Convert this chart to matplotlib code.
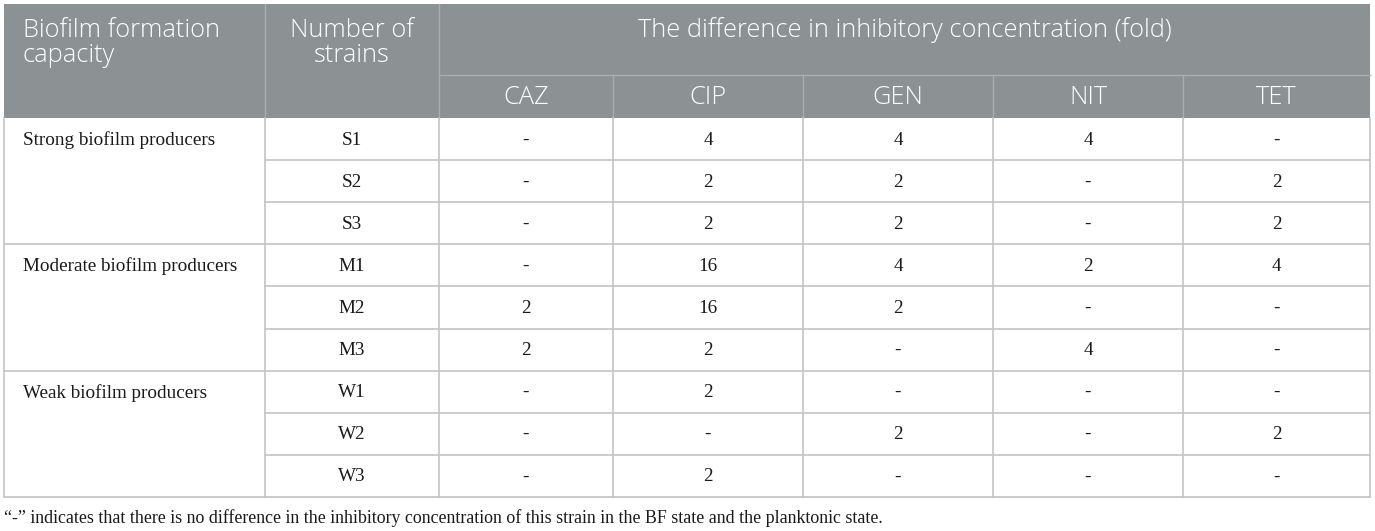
import matplotlib

matplotlib.use("Agg")
import matplotlib.pyplot as plt
from matplotlib.patches import Rectangle

# data
groups = ["Strong biofilm producers", "Moderate biofilm producers", "Weak biofilm producers"]
strains = ["S1", "S2", "S3", "M1", "M2", "M3", "W1", "W2", "W3"]
drugs = ["CAZ", "CIP", "GEN", "NIT", "TET"]
caz = ["-", "-", "-", "-", "2", "2", "-", "-", "-"]
cip = ["4", "2", "2", "16", "16", "2", "2", "-", "2"]
gen = ["4", "2", "2", "4", "2", "-", "-", "2", "-"]
nit = ["4", "-", "-", "2", "-", "4", "-", "-", "-"]
tet = ["-", "2", "2", "4", "-", "-", "-", "2", "-"]
footnote = ("\u201c-\u201d indicates that there is no difference in the inhibitory "
            "concentration of this strain in the BF state and the planktonic state.")

W, H = 1375, 531
fig = plt.figure(figsize=(W / 100, H / 100), dpi=100)
ax = fig.add_axes([0, 0, 1, 1])
ax.set_xlim(0, W)
ax.set_ylim(H, 0)
ax.axis("off")

# layout (pixels)
xs = [4, 265, 439, 613, 803, 993, 1183, 1370]
top, sub, head_bot = 4, 75, 118
row_h = 42.1
rows_y = [head_bot + i * row_h for i in range(len(strains) + 1)]
bottom = rows_y[-1]

head_col = "#8c9194"
head_line = "#a9adb0"
body_line = "#c4c4c4"
sans = "Open Sans"
serif = "Liberation Serif"
hsize = 18.3
bsize = 13.8

# header band
ax.add_patch(Rectangle((xs[0], top), xs[-1] - xs[0], head_bot - top, color=head_col, lw=0))
ax.plot([xs[2], xs[-1]], [sub, sub], color=head_line, lw=1)
for x in xs[1:3]:
    ax.plot([x, x], [top, head_bot], color=head_line, lw=1)
for x in xs[3:-1]:
    ax.plot([x, x], [sub, head_bot], color=head_line, lw=1)

hkw = dict(color="white", family=sans, size=hsize, weight="light", va="center")
ax.text(23, 43, "Biofilm formation\ncapacity", ha="left", linespacing=1.0, **hkw)
ax.text((xs[1] + xs[2]) / 2, 43, "Number of\nstrains", ha="center", linespacing=1.0, **hkw)
ax.text((xs[2] + xs[-1]) / 2, 30, "The difference in inhibitory concentration (fold)",
        ha="center", **hkw)
for j, d in enumerate(drugs):
    ax.text((xs[j + 2] + xs[j + 3]) / 2, (sub + head_bot) / 2 + 1, d, ha="center", **hkw)

# body lines
for i in range(1, len(strains) + 1):
    y = rows_y[i]
    x0 = xs[0] if i % 3 == 0 else xs[1]
    ax.plot([x0, xs[-1]], [y, y], color=body_line, lw=1.2)
for x in xs:
    ax.plot([x, x], [head_bot, bottom], color=body_line, lw=1.2)

# body text
bkw = dict(family=serif, size=bsize, va="center", color="#1a1a1a")
cols = [caz, cip, gen, nit, tet]
for g, name in enumerate(groups):
    ax.text(23, (rows_y[g * 3] + rows_y[g * 3 + 1]) / 2 + 1, name, ha="left", **bkw)
for i, s in enumerate(strains):
    yc = (rows_y[i] + rows_y[i + 1]) / 2 + 1
    ax.text((xs[1] + xs[2]) / 2, yc, s, ha="center", **bkw)
    for j, col in enumerate(cols):
        ax.text((xs[j + 2] + xs[j + 3]) / 2, yc, col[i], ha="center", **bkw)

ax.text(4, 518, footnote, family=serif, size=12.9, va="center", ha="left", color="#1a1a1a")

fig.savefig("out.png", dpi=100)
